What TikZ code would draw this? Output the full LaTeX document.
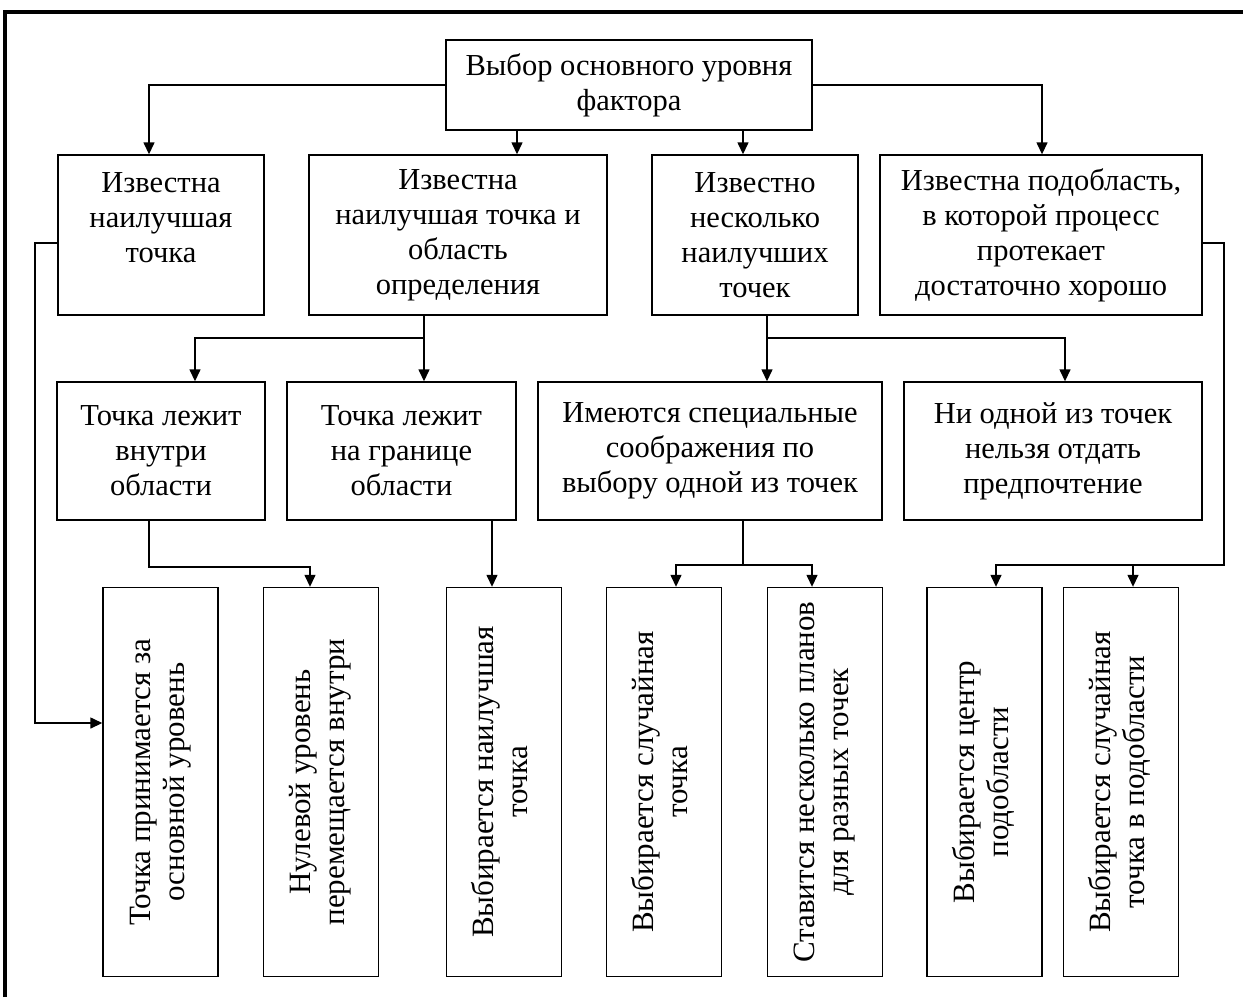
\documentclass[tikz,border=0pt]{standalone}
\usepackage{fontspec}
\setmainfont{Liberation Serif}
\usepackage{graphicx}
\usetikzlibrary{arrows.meta,calc}
\newcommand{\vtext}[1]{\rotatebox{90}{\begin{tabular}{@{}c@{}}#1\end{tabular}}}
\begin{document}
\begin{tikzpicture}[x=1pt,y=-1pt,
  box/.style={draw=black,line width=1.4pt,align=center,inner sep=0pt,
    font=\fontsize{30.5}{35}\selectfont},
  vbox/.style={draw=black,line width=1.4pt,inner sep=0pt,minimum width=115pt,minimum height=389pt,
    font=\fontsize{31}{34}\selectfont},
  conn/.style={line width=1.4pt},
  arr/.style={line width=1.4pt,-{Triangle[length=12pt,width=11pt]}}]
\useasboundingbox (0,0) rectangle (1243,997);
\fill[white] (0,0) rectangle (1243,997);
% frame
\draw[line width=4pt] (5,997) -- (5,12);
\draw[line width=4pt] (3,12) -- (1243,12);

% top
\node[box,minimum width=366pt,minimum height=90pt] (T) at (629,85) {Выбор основного уровня\\фактора};
% row 2
\node[box,minimum width=206pt,minimum height=160pt] (A) at (161,235) {Известна\\наилучшая\\точка\\\mbox{}};
\node[box,minimum width=298pt,minimum height=160pt] (B) at (458,235) {Известна\\наилучшая точка и\\область\\определения};
\node[box,minimum width=206pt,minimum height=160pt] (C) at (755,235) {Известно\\несколько\\наилучших\\точек};
\node[box,minimum width=322pt,minimum height=160pt] (D) at (1041,235) {Известна подобласть,\\в которой процесс\\протекает\\достаточно хорошо};
% row 3
\node[box,minimum width=208pt,minimum height=138pt] (E) at (161,451) {Точка лежит\\внутри\\области};
\node[box,minimum width=229pt,minimum height=138pt] (F) at (401.5,451) {Точка лежит\\на границе\\области};
\node[box,minimum width=344pt,minimum height=138pt] (G) at (710,451) {Имеются специальные\\соображения по\\выбору одной из точек};
\node[box,minimum width=298pt,minimum height=138pt] (H) at (1053,451) {Ни одной из точек\\нельзя отдать\\предпочтение};
% row 4
\node[vbox] (I) at (160.5,782) {\vtext{Точка принимается за\\основной уровень}};
\node[vbox] (J) at (321,782) {\vtext{Нулевой уровень\\перемещается внутри}};
\node[vbox] (K) at (504,782) {\vtext{Выбирается наилучшая\\точка}};
\node[vbox] (L) at (664,782) {\vtext{Выбирается случайная\\точка}};
\node[vbox] (M) at (825,782) {\vtext{Ставится несколько планов\\для разных точек}};
\node[vbox] (N) at (984.5,782) {\vtext{Выбирается центр\\подобласти}};
\node[vbox] (O) at (1121,782) {\vtext{Выбирается случайная\\точка в подобласти}};

% helper coordinates
\coordinate (xa) at (149,0);
\coordinate (xb) at (517,0);
\coordinate (xc) at (743,0);
\coordinate (xd) at (1042,0);
\coordinate (jb) at (424,338);
\coordinate (xe) at (195,0);
\coordinate (jc) at (767,338);
\coordinate (xh) at (1065,0);
\coordinate (la) at (35,243);
\coordinate (lb) at (35,723);
\coordinate (je) at (149,567);
\coordinate (xj) at (310,0);
\coordinate (xk) at (492,0);
\coordinate (jg) at (743,565);
\coordinate (xl) at (676,0);
\coordinate (xm) at (812,0);
\coordinate (dr) at (1224,243);
\coordinate (dd) at (1224,565);
\coordinate (xn) at (996,0);
\coordinate (xo) at (1133,0);

% connectors from top
\draw[arr] (T.west) -| (A.north -| xa);
\draw[arr] (T.south -| xb) -- (B.north -| xb);
\draw[arr] (T.south -| xc) -- (C.north -| xc);
\draw[arr] (T.east) -| (D.north -| xd);
% B -> E, F
\draw[arr] (B.south -| jb) -- (F.north -| jb);
\draw[arr] (jb) -| (E.north -| xe);
% C -> G, H
\draw[arr] (C.south -| jc) -- (G.north -| jc);
\draw[arr] (jc) -| (H.north -| xh);
% A -> I
\draw[arr] (A.west |- la) -- (la) -- (lb) -- (I.west |- lb);
% E -> J
\draw[arr] (E.south -| je) -- (je) -| (J.north -| xj);
% F -> K
\draw[arr] (F.south -| xk) -- (K.north -| xk);
% G -> L, M
\draw[conn] (G.south -| jg) -- (jg);
\draw[arr] (jg) -| (L.north -| xl);
\draw[arr] (jg) -| (M.north -| xm);
% D -> N, O
\draw[arr] (D.east |- dr) -- (dr) -- (dd) -| (N.north -| xn);
\draw[arr] (dd -| xo) -- (O.north -| xo);
\end{tikzpicture}
\end{document}
